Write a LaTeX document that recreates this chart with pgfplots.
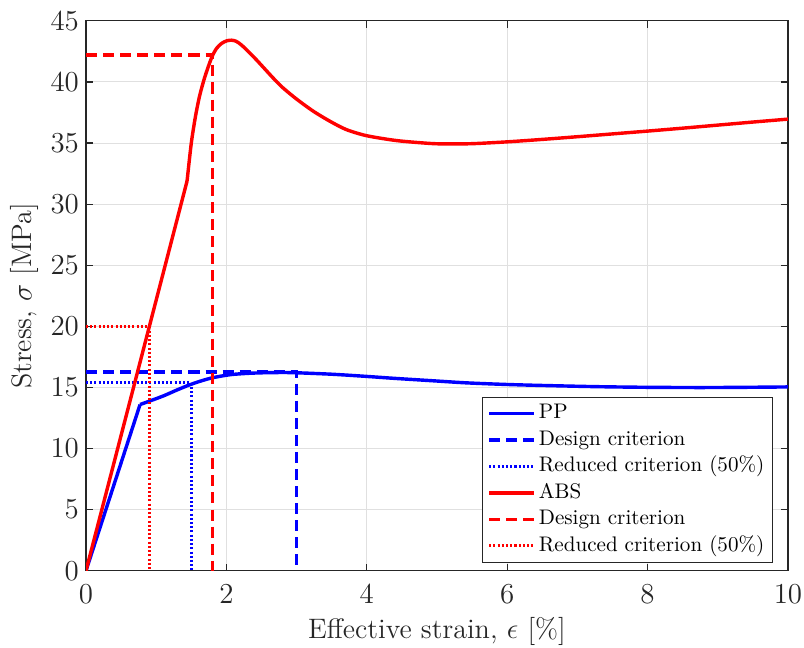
\documentclass[border=0pt]{standalone}
\usepackage{pgfplots}
\pgfplotsset{compat=1.18}
\definecolor{axgray}{rgb}{0.15,0.15,0.15}
\definecolor{gridgray}{rgb}{0.88,0.88,0.88}
\begin{document}
\begin{tikzpicture}
\begin{axis}[
  scale only axis,
  width=349.3pt, height=273.6pt,
  xmin=0, xmax=10, ymin=0, ymax=45,
  xtick={0,2,...,10}, ytick={0,5,...,45},
  tick align=inside,
  major tick length=3.5pt,
  tick style={axgray, line width=0.6pt},
  axis line style={axgray, line width=0.6pt},
  grid=major,
  grid style={gridgray, line width=0.5pt},
  ticklabel style={font=\fontsize{14}{16}\selectfont, text=axgray},
  xticklabel style={yshift=-3.5pt},
  label style={font=\fontsize{14}{16}\selectfont, text=axgray},
  xlabel={Effective strain, $\epsilon$ [\%]},
  ylabel={Stress, $\sigma$ [MPa]},
  xlabel style={at={(axis description cs:0.5,-0.11)}, anchor=center},
  ylabel style={at={(axis description cs:-0.0875,0.5)}, anchor=center},
  legend cell align=left,
  legend image code/.code={\draw[#1] (0pt,0pt) -- (22.4pt,0pt);},
  legend style={at={(rel axis cs:0.9786,0.0145)}, anchor=south east,
    font=\fontsize{10.5}{12}\selectfont, draw=axgray, line width=0.5pt,
    inner xsep=2.5pt, inner ysep=1.5pt, row sep=0pt,
    nodes={inner sep=1.5pt, text height=7.7pt, text depth=2.5pt}},
]
% PP
\addplot[blue, line width=1.7pt, forget plot] coordinates {(0,0) (0.77,13.6)};
\addplot[blue, line width=1.7pt, smooth, tension=0.5] coordinates {
(0.77,13.6) (0.9,13.87) (1.1,14.3) (1.3,14.8) (1.48,15.22) (1.65,15.55) (1.81,15.8)
(2.05,16.04) (2.3,16.15) (2.53,16.2) (2.8,16.22) (3.0,16.2) (3.5,16.08) (3.95,15.92)
(4.4,15.74) (4.9,15.56) (5.4,15.38) (5.9,15.26) (6.3,15.19) (6.73,15.13) (7.3,15.06)
(7.99,15.01) (8.75,14.99) (9.4,15.01) (10,15.04)};
\addlegendentry{PP}
\addplot[blue, line width=1.7pt, dash pattern=on 5.5pt off 3pt] coordinates {(0,16.25) (3,16.25) (3,0)};
\addlegendentry{Design criterion}
\addplot[blue, line width=1.5pt, dash pattern=on 1pt off 1.1pt] coordinates {(0,15.4) (1.5,15.4) (1.5,0)};
\addlegendentry{Reduced criterion (50\%)}
% ABS
\addplot[red, line width=1.7pt, forget plot] coordinates {(0,0) (1.44,31.9)};
\addplot[red, line width=1.7pt, smooth, tension=0.45] coordinates {
(1.44,31.9) (1.5,35.0) (1.56,37.2) (1.62,38.9) (1.695,40.45)
(1.79,42.0) (1.86,42.75) (1.93,43.15) (2.0,43.36) (2.07,43.42) (2.14,43.33) (2.22,43.0)
(2.32,42.45) (2.43,41.8) (2.55,41.05) (2.67,40.3) (2.8,39.55) (3.0,38.6) (3.24,37.6) (3.48,36.77)
(3.71,36.1) (4.0,35.6) (4.43,35.2) (4.9,34.97) (5.14,34.93) (5.5,34.95) (6.0,35.1)
(6.5,35.3) (7.0,35.52) (7.5,35.75) (8.0,35.98) (8.5,36.22) (9.0,36.47) (9.5,36.72) (10,36.96)};
\addlegendentry{ABS}
\addplot[red, line width=1.7pt, dash pattern=on 5.5pt off 3pt] coordinates {(0,42.2) (1.8,42.2) (1.8,0)};
\addlegendentry{Design criterion}
\addplot[red, line width=1.5pt, dash pattern=on 1pt off 1.1pt] coordinates {(0,20) (0.9,20) (0.9,0)};
\addlegendentry{Reduced criterion (50\%)}
\end{axis}
\pgfresetboundingbox
\path (current axis.south west) ++(-42.8pt,-38.3pt) coordinate (bl);
\path (current axis.north east) ++(8pt,10.4pt) coordinate (tr);
\useasboundingbox (bl) rectangle (tr);
\end{tikzpicture}
\end{document}
